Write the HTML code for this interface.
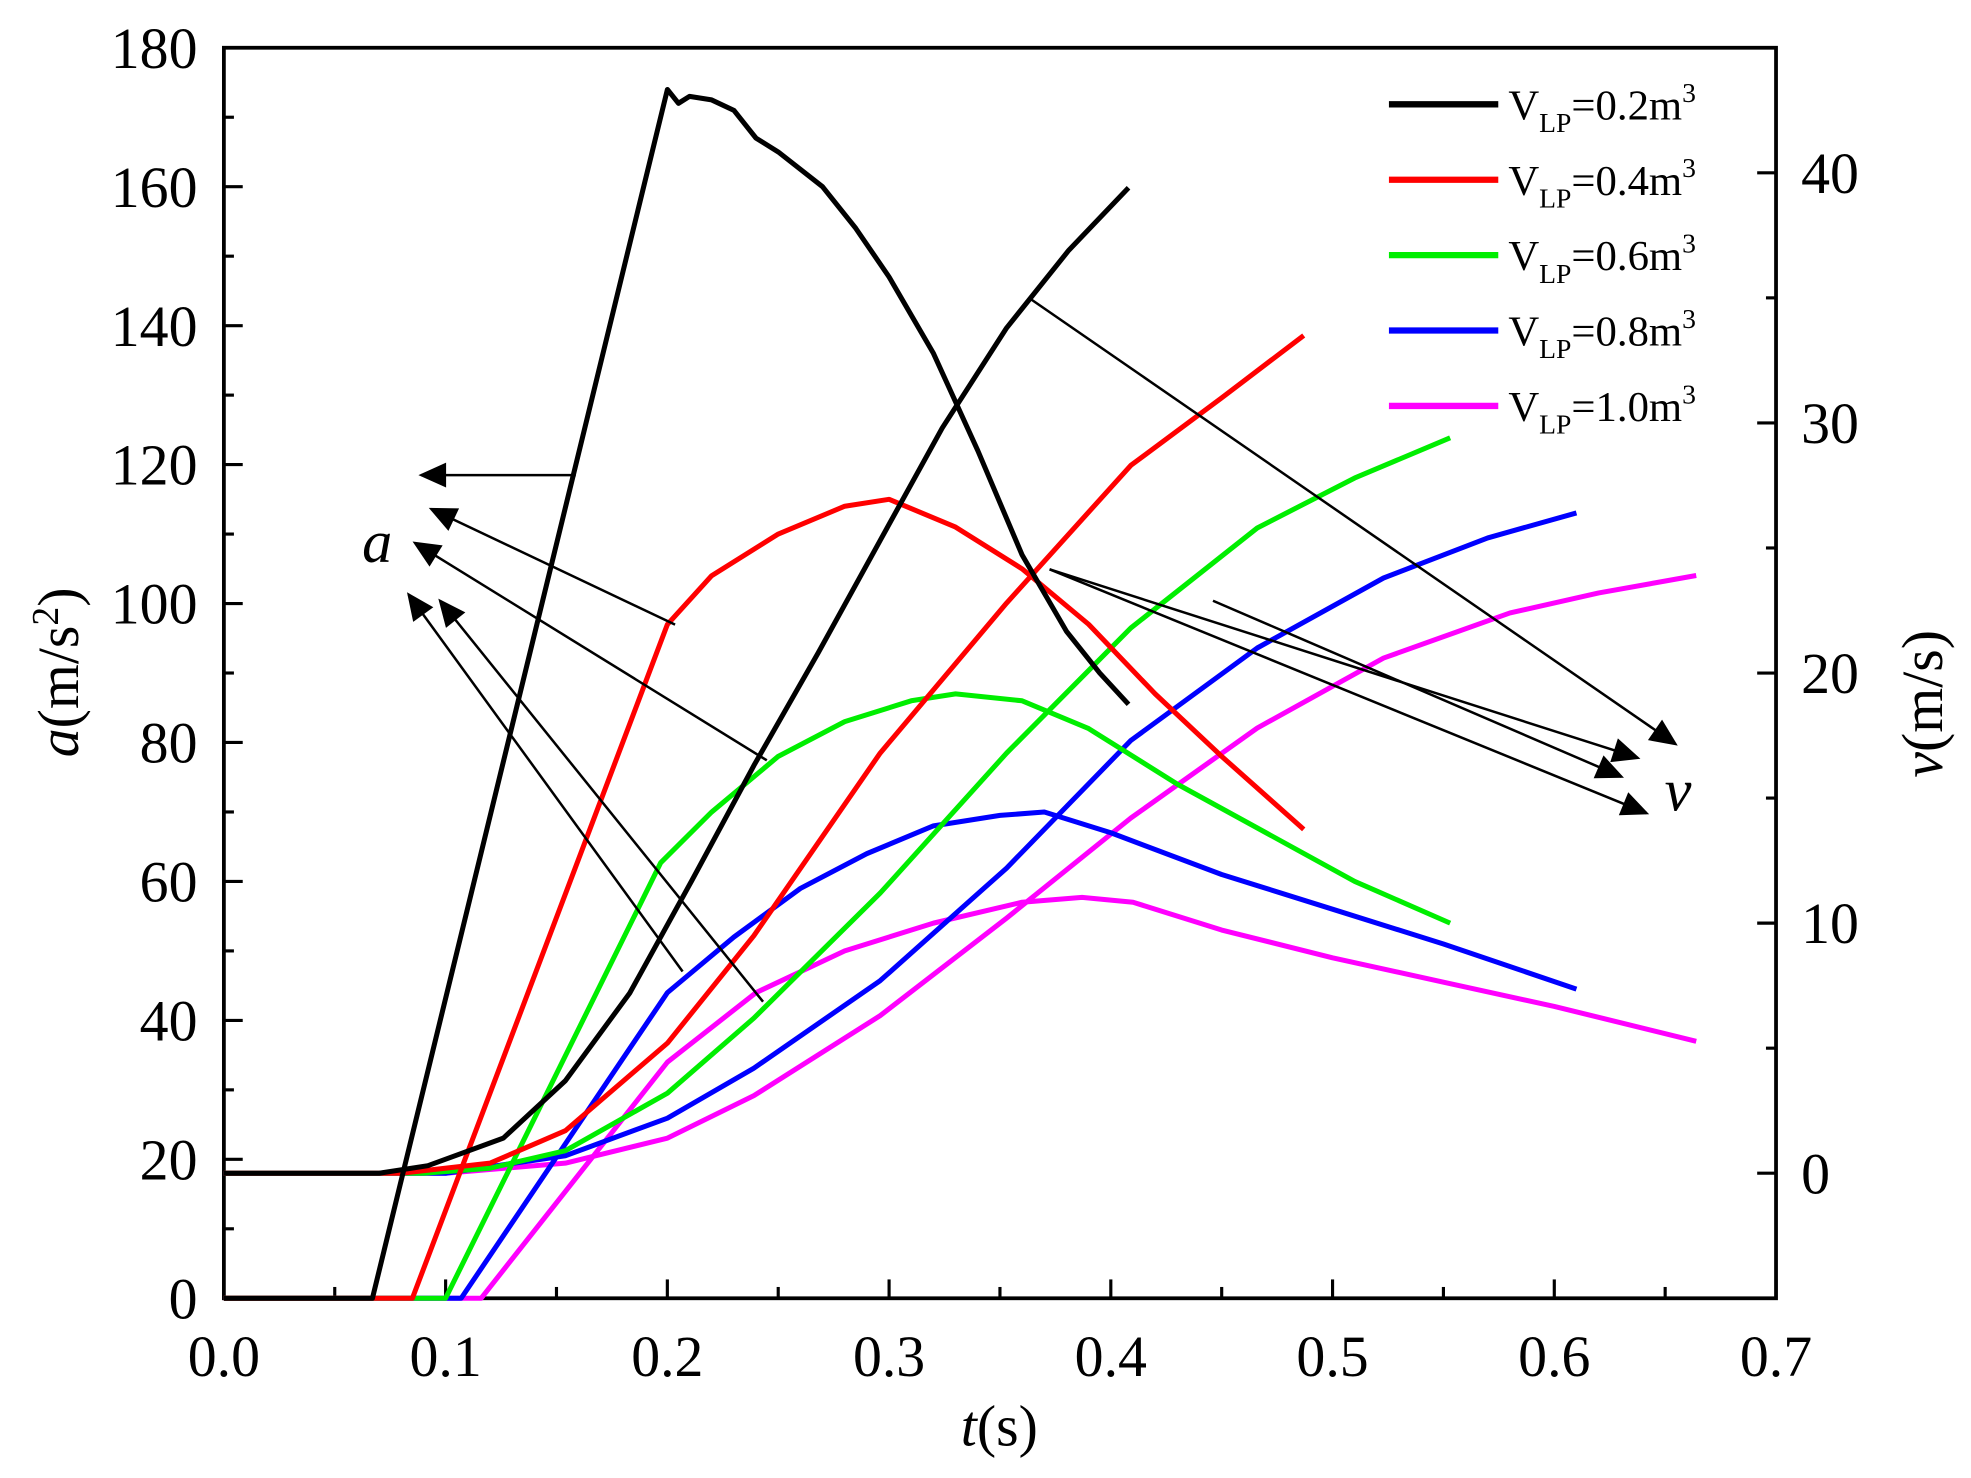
<!DOCTYPE html>
<html><head><meta charset="utf-8"><style>
html,body{margin:0;padding:0;background:#fff;}
svg{display:block;}
text{font-family:"Liberation Serif",serif;fill:#000;}
</style></head><body>
<svg id="chart" width="1971" height="1478" viewBox="0 0 1568 1176" xmlns="http://www.w3.org/2000/svg">
<defs>
<marker id="ah2" viewBox="0 0 10 10" refX="9" refY="5" markerWidth="26" markerHeight="22" orient="auto" markerUnits="userSpaceOnUse"><path d="M0,0.5 L10,5 L0,9.5 z" fill="#000"/></marker></defs>
<g id="axes"></g>
<g id="series"></g>
<g id="annot"></g>
<g id="legend"></g>
</svg>
<script>
const tTicks=[0,0.1,0.2,0.3,0.4,0.5,0.6,0.7];
const tLabels=["0.0","0.1","0.2","0.3","0.4","0.5","0.6","0.7"];
const aTicks=[0,20,40,60,80,100,120,140,160,180];
const vTicks=[0,10,20,30,40];
const legendVals=["0.2","0.4","0.6","0.8","1.0"];
const colors=["#000000","#ff0000","#00ee00","#0000ff","#ff00ff"];
// acceleration series [t, a]
const acc0=[[0,0],[0.067,0],[0.2,174],[0.205,172],[0.21,173],[0.22,172.5],[0.23,171],[0.24,167],[0.25,165],[0.27,160],[0.285,154],[0.3,147],[0.32,136],[0.34,122],[0.36,107],[0.38,96],[0.395,90],[0.408,85.5]];
const acc1=[[0,0],[0.085,0],[0.2,97],[0.22,104],[0.25,110],[0.28,114],[0.3,115],[0.33,111],[0.36,105],[0.39,97],[0.42,87],[0.45,78],[0.487,67.5]];
const acc2=[[0,0],[0.1,0],[0.197,62.7],[0.22,70],[0.25,78],[0.28,83],[0.31,86],[0.33,87],[0.36,86],[0.39,82],[0.43,74],[0.47,67],[0.51,60],[0.553,54]];
const acc3=[[0,0],[0.107,0],[0.2,44],[0.23,52],[0.26,59],[0.29,64],[0.32,68],[0.35,69.5],[0.37,70],[0.4,67],[0.45,61],[0.5,56],[0.55,51],[0.61,44.5]];
const acc4=[[0,0],[0.116,0],[0.2,34],[0.24,44],[0.28,50],[0.32,54],[0.36,57],[0.387,57.7],[0.41,57],[0.45,53],[0.5,49],[0.55,45.5],[0.6,42],[0.664,37]];
// velocity series [t, v]
const vel0=[[0,0],[0.07,0],[0.092,0.3],[0.126,1.4],[0.154,3.7],[0.183,7.2],[0.211,11.7],[0.239,16.3],[0.268,20.8],[0.296,25.3],[0.324,29.8],[0.353,33.8],[0.381,36.9],[0.408,39.4]];
const vel1=[[0,0],[0.08,0],[0.12,0.4],[0.154,1.7],[0.2,5.2],[0.239,9.5],[0.296,16.8],[0.353,22.8],[0.409,28.3],[0.45,31],[0.487,33.5]];
const vel2=[[0,0],[0.09,0],[0.12,0.2],[0.154,0.9],[0.2,3.2],[0.239,6.2],[0.296,11.2],[0.353,16.8],[0.409,21.8],[0.466,25.8],[0.51,27.8],[0.553,29.4]];
const vel3=[[0,0],[0.1,0],[0.154,0.7],[0.2,2.2],[0.239,4.2],[0.296,7.7],[0.353,12.2],[0.409,17.3],[0.466,21],[0.523,23.8],[0.57,25.4],[0.61,26.4]];
const vel4=[[0,0],[0.1,0],[0.154,0.4],[0.2,1.4],[0.239,3.1],[0.296,6.3],[0.353,10.2],[0.409,14.2],[0.466,17.8],[0.523,20.6],[0.58,22.4],[0.62,23.2],[0.664,23.9]];
const accs=[acc0,acc1,acc2,acc3,acc4];
const vels=[vel0,vel1,vel2,vel3,vel4];

const L=178,R=1413,T=38,B=1033;
const X=t=>L+(t/0.7)*(R-L);
const YA=a=>B-(a/180)*(B-T);
const YV=v=>B-((v+5)/50)*(B-T);
const NS="http://www.w3.org/2000/svg";
function mk(tag,attrs,parent){const e=document.createElementNS(NS,tag);for(const k in attrs)e.setAttribute(k,attrs[k]);parent.appendChild(e);return e;}
const axes=document.getElementById('axes'),ser=document.getElementById('series'),ann=document.getElementById('annot'),leg=document.getElementById('legend');

let fr=mk('rect',{x:L,y:T,width:R-L,height:B-T,fill:'none',stroke:'#000','stroke-width':3},axes);


for(let i=0;i<=14;i++){const t=i*0.05;const len=i%2===0?15:9;
 let l=mk('line',{x1:X(t),x2:X(t),y1:B,y2:B-len,stroke:'#000','stroke-width':2.5},axes);
 
 }
tTicks.forEach((t,i)=>{let tx=mk('text',{x:X(t),y:B+62,'font-size':46,'text-anchor':'middle'},axes);tx.textContent=tLabels[i];
 
 });
for(let a=0;a<=180;a+=10){const len=a%20===0?15:8;
 let l=mk('line',{x1:L,x2:L+len,y1:YA(a),y2:YA(a),stroke:'#000','stroke-width':2.5},axes);
 
 }
aTicks.forEach(a=>{let tx=mk('text',{x:157,y:YA(a)+16,'font-size':46,'text-anchor':'end'},axes);tx.textContent=a;
 
 });
for(let v=-5;v<=45;v+=5){const len=v%10===0?15:8;
 let l=mk('line',{x1:R,x2:R-len,y1:YV(v),y2:YV(v),stroke:'#000','stroke-width':2.5},axes);
 
 }
vTicks.forEach(v=>{let tx=mk('text',{x:1433,y:YV(v)+16,'font-size':46,'text-anchor':'start'},axes);tx.textContent=v;
 
 });
let xt=mk('text',{x:795,y:1150,'font-size':46,'text-anchor':'middle'},axes);
xt.innerHTML='<tspan font-style="italic">t</tspan>(s)';


let yt=mk('text',{x:0,y:0,'font-size':46,'text-anchor':'middle',transform:'translate(62,535) rotate(-90)'},axes);
yt.innerHTML='<tspan font-style="italic">a</tspan>(m/s<tspan font-size="30" dy="-16">2</tspan><tspan dy="16">)</tspan>';


let yt2=mk('text',{x:0,y:0,'font-size':46,'text-anchor':'middle',transform:'translate(1545,560) rotate(-90)'},axes);
yt2.innerHTML='<tspan font-style="italic">v</tspan>(m/s)';



function path(pts,fy){return pts.map((p,i)=>(i?'L':'M')+X(p[0]).toFixed(1)+','+fy(p[1]).toFixed(1)).join(' ');}
for(let i=4;i>=0;i--){
 let p=mk('path',{d:path(accs[i],YA),fill:'none',stroke:colors[i],'stroke-width':4,'stroke-linejoin':'round'},ser);
 
 
 let q=mk('path',{d:path(vels[i],YV),fill:'none',stroke:colors[i],'stroke-width':4,'stroke-linejoin':'round'},ser);
 
 
}
const aArrows=[[458,378,335,378],[537,497,343,405],[610,605,330,432],[543,773,325,473],[607,797,350,478]];
const vArrows=[[820,238,1333,592],[835,453,1303,603],[965,478,1290,618],[835,453,1310,647]];
aArrows.concat(vArrows).forEach(c=>{let l=mk('line',{x1:c[0],y1:c[1],x2:c[2],y2:c[3],stroke:'#000','stroke-width':2,'marker-end':'url(#ah2)'},ann);
 
 });
let la=mk('text',{x:300,y:447,'font-size':48,'font-style':'italic','text-anchor':'middle'},ann);la.textContent='a';


let lv=mk('text',{x:1335,y:645,'font-size':48,'font-style':'italic','text-anchor':'middle'},ann);lv.textContent='v';


legendVals.forEach((v,i)=>{const y=83+i*60;
 let g=mk('g',{},leg);
 
 
 mk('line',{x1:1105,x2:1192,y1:y,y2:y,stroke:colors[i],'stroke-width':5},g);
 let tx=mk('text',{x:1200,y:y+12,'font-size':34},g);
 tx.innerHTML='V<tspan font-size="22" dy="10">LP</tspan><tspan dy="-10">='+v+'m</tspan><tspan font-size="22" dy="-14">3</tspan>';
});
</script>
</body></html>
